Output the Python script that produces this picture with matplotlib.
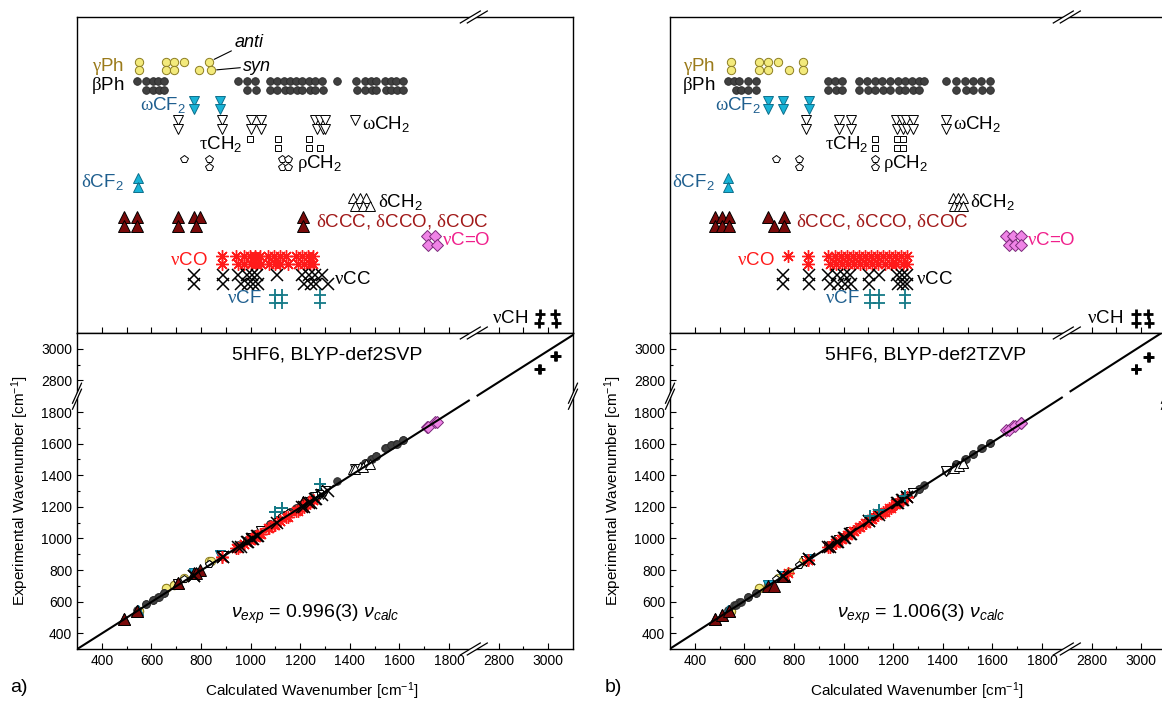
import numpy as np
import matplotlib
matplotlib.use('Agg')
import matplotlib.pyplot as plt
from matplotlib.lines import Line2D
from matplotlib.patches import Polygon

plt.rcParams['font.family'] = ['Liberation Sans', 'DejaVu Sans']
plt.rcParams['mathtext.fontset'] = 'custom'
plt.rcParams['mathtext.rm'] = 'Liberation Sans'
plt.rcParams['mathtext.it'] = 'Liberation Sans:italic'
plt.rcParams['mathtext.sf'] = 'Liberation Serif'

nan = np.nan

# bands, top to bottom
bands = ['gPh', 'bPh', 'wCF2', 'wCH2', 'tCH2', 'rCH2', 'dCF2', 'dCH2',
         'dCCC', 'nC=O', 'nCO', 'nCC', 'nCF', 'nCH']
band_labels = [r'$\mathsf{\gamma}$Ph', r'$\mathsf{\beta}$Ph', r'$\mathsf{\omega}$CF$_2$',
               r'$\mathsf{\omega}$CH$_2$', r'$\mathsf{\tau}$CH$_2$', r'$\mathsf{\rho}$CH$_2$',
               r'$\mathsf{\delta}$CF$_2$', r'$\mathsf{\delta}$CH$_2$',
               r'$\mathsf{\delta}$CCC, $\mathsf{\delta}$CCO, $\mathsf{\delta}$COC',
               r'$\mathsf{\nu}$C=O', r'$\mathsf{\nu}$CO', r'$\mathsf{\nu}$CC',
               r'$\mathsf{\nu}$CF', r'$\mathsf{\nu}$CH']

# BLYP-def2SVP, calculated wavenumbers (anti / syn) and experimental ones
svp_anti = {
    'gPh': [552, 658, 691, 732, nan, 833],
    'bPh': [540, 577, 605, 626, 650, 951, 984, 1017, 1078, 1106, 1135, 1159, 1184, 1208,
            1236, 1261, 1289, 1350, 1424, 1460, 1485, 1505, 1542, 1566, 1587, 1615],
    'wCF2': [772, 878],
    'wCH2': [707, 886, 1000, 1041, 1261, 1281, 1302, 1420],
    'tCH2': [996, 1110, 1236, nan],
    'rCH2': [732, 833, 1127, 1151],
    'dCF2': [544],
    'dCH2': [1412, 1440, 1464],
    'dCCC': [491, 540, 707, 772, 797, 1212],
    'nC=O': [1710, 1745],
    'nCO': [886, 943, 972, 996, 1017, 1037, 1070, 1094, 1118, 1143, 1184, 1208, 1232, 1253],
    'nCC': [772, 890, 951, 984, 1004, 1025, 1106, 1208, 1236, 1261, 1289, nan],
    'nCF': [1098, 1127, 1281],
    'nCH': [2965, 3026],
}
svp_syn = {
    'gPh': [552, 658, 691, nan, 793, 841],
    'bPh': [nan, 580, 605, 630, 650, nan, 984, 1020, 1080, 1106, 1138, 1159, 1188, 1208,
            1240, 1261, 1292, nan, 1428, 1460, 1488, 1505, 1546, 1566, 1590, 1615],
    'wCF2': [772, 878],
    'wCH2': [707, 886, 1000, 1041, 1266, 1290, 1302, nan],
    'tCH2': [nan, 1110, 1236, 1281],
    'rCH2': [nan, 833, 1127, 1151],
    'dCF2': [544],
    'dCH2': [1420, 1452, 1480],
    'dCCC': [491, 540, 707, 780, nan, 1212],
    'nC=O': [1715, 1750],
    'nCO': [886, 950, 975, 1000, 1020, 1040, 1075, 1098, 1120, 1150, 1190, 1215, 1238, 1253],
    'nCC': [772, 890, 960, 990, 1010, 1030, nan, 1215, 1245, 1265, nan, 1314],
    'nCF': [1098, 1127, 1281],
    'nCH': [2962, 3030],
}
svp_exp = {
    'gPh': [540, 686, 705, 749, 790, 860],
    'bPh': [545, 585, 610, 632, 655, 960, 990, 1025, 1090, 1115, 1145, 1170, 1195, 1215,
            1245, 1270, 1300, 1365, 1440, 1475, 1500, 1520, 1570, 1590, 1600, 1625],
    'wCF2': [781, 895],
    'wCH2': [712, 890, 1000, 1045, 1262, 1278, 1300, 1440],
    'tCH2': [1000, 1115, 1240, 1290],
    'rCH2': [740, 840, 1140, 1160],
    'dCF2': [545],
    'dCH2': [1440, 1455, 1470],
    'dCCC': [492, 540, 720, 780, 800, 1230],
    'nC=O': [1705, 1735],
    'nCO': [880, 940, 965, 990, 1010, 1030, 1065, 1085, 1110, 1135, 1175, 1200, 1225, 1245],
    'nCC': [760, 880, 945, 975, 995, 1015, 1100, 1200, 1225, 1250, 1275, 1300],
    'nCF': [1170, 1190, 1345],
    'nCH': [2875, 2956],
}

# BLYP-def2TZVP
tz_anti = {
    'gPh': [544, 658, 695, 736, nan, 837],
    'bPh': [532, 560, 580, 614, 646, 939, 964, 992, 1061, 1094, 1127, 1155, 1188, 1220,
            1249, 1277, 1306, 1326, 1412, 1453, 1490, 1522, 1555, 1591],
    'wCF2': [695, 756, 862],
    'wCH2': [850, 980, 1029, 1212, 1236, 1253, 1281, 1412],
    'tCH2': [1127, 1216, 1241],
    'rCH2': [728, 821, 1127],
    'dCF2': [532],
    'dCH2': [1440, 1460, 1481],
    'dCCC': [483, 511, 536, 695, 760],
    'nC=O': [1656, 1684, 1717],
    'nCO': [776, 858, 939, 964, 988, 1013, 1037, 1061, 1086, 1110, 1135, 1159, 1184, 1208, 1232, 1257],
    'nCC': [756, 862, 939, 972, 1000, 1025, 1102, 1143, 1216, 1236, 1257],
    'nCF': [1106, 1143, 1249],
    'nCH': [2981, 3026],
}
tz_syn = {
    'gPh': [544, 658, 695, nan, 780, 837],
    'bPh': [nan, 565, 585, 614, 646, 939, 968, 992, 1061, 1098, 1127, 1159, 1188, 1224,
            1249, 1280, 1306, nan, nan, 1453, 1494, 1522, 1560, 1591],
    'wCF2': [695, 756, 862],
    'wCH2': [850, 980, 1029, 1216, 1240, 1257, 1281, 1412],
    'tCH2': [1127, 1216, 1241],
    'rCH2': [nan, 821, 1127],
    'dCF2': [532],
    'dCH2': [1445, 1465, 1481],
    'dCCC': [483, 511, 536, 720, 760],
    'nC=O': [1665, 1690, 1717],
    'nCO': [nan, 858, 945, 968, 992, 1018, 1040, 1065, 1090, 1115, 1140, 1165, 1190, 1212, 1238, 1257],
    'nCC': [756, 862, 945, 978, 1005, 1030, 1102, nan, 1220, 1240, 1257],
    'nCF': [1106, 1143, 1249],
    'nCH': [2978, 3030],
}
tz_exp = {
    'gPh': [540, 686, 705, 749, 790, 860],
    'bPh': [545, 580, 595, 632, 655, 960, 985, 1010, 1075, 1110, 1140, 1165, 1195, 1230,
            1255, 1285, 1315, 1335, 1425, 1470, 1505, 1535, 1570, 1605],
    'wCF2': [705, 765, 870],
    'wCH2': [860, 990, 1040, 1220, 1245, 1262, 1290, 1425],
    'tCH2': [1135, 1225, 1250],
    'rCH2': [740, 830, 1140],
    'dCF2': [545],
    'dCH2': [1445, 1460, 1480],
    'dCCC': [490, 515, 540, 700, 765],
    'nC=O': [1686, 1710, 1730],
    'nCO': [780, 865, 945, 970, 995, 1020, 1045, 1070, 1095, 1120, 1145, 1170, 1195, 1215, 1240, 1265],
    'nCC': [765, 870, 945, 980, 1005, 1030, 1110, 1150, 1225, 1245, 1265],
    'nCF': [1140, 1180, 1270],
    'nCH': [2875, 2950],
}

svp_slope = 0.996
tz_slope = 1.006

major_ticks = [400, 600, 800, 1000, 1200, 1400, 1600, 1800, 2800, 3000]
minor_ticks = [500, 700, 900, 1100, 1300, 1500, 1700, 2900]
band_ticks = [400, 500, 600, 700, 800, 900, 1000, 1100, 1200, 1300, 1400, 1500, 1600,
              1700, 1800, 2800, 2900, 3000]

# label x position (wavenumber) and alignment for each band
svp_lab = {'gPh': (490, 'right'), 'bPh': (490, 'right'), 'wCF2': (738, 'right'),
           'wCH2': (1449, 'left'), 'tCH2': (965, 'right'), 'rCH2': (1187, 'left'),
           'dCF2': (487, 'right'), 'dCH2': (1514, 'left'), 'dCCC': (1262, 'left'),
           'nC=O': (1772, 'left'), 'nCO': (828, 'right'), 'nCC': (1335, 'left'),
           'nCF': (1046, 'right'), 'nCH': (2918, 'right')}
tz_lab = {'gPh': (481, 'right'), 'bPh': (481, 'right'), 'wCF2': (666, 'right'),
          'wCH2': (1441, 'left'), 'tCH2': (1098, 'right'), 'rCH2': (1159, 'left'),
          'dCF2': (481, 'right'), 'dCH2': (1510, 'left'), 'dCCC': (808, 'left'),
          'nC=O': (1740, 'left'), 'nCO': (723, 'right'), 'nCC': (1292, 'left'),
          'nCF': (1066, 'right'), 'nCH': (2926, 'right')}

# marker, face, edge, size, edge width, label colour
style = {
    'gPh': ('o', '#f3ea7c', '#8c7d22', 6.0, 0.7, '#9a7a1a'),
    'bPh': ('o', '#404040', '#2a2a2a', 5.5, 0.6, 'black'),
    'wCF2': ('v', '#19b3d6', '#0d6f8c', 6.5, 0.7, '#1f5f8f'),
    'wCH2': ('v', 'white', 'black', 6.5, 0.7, 'black'),
    'tCH2': ('s', 'white', 'black', 4.0, 0.7, 'black'),
    'rCH2': ('p', 'white', 'black', 5.5, 0.7, 'black'),
    'dCF2': ('^', '#19b3d6', '#0d6f8c', 7.0, 0.7, '#1f5f8f'),
    'dCH2': ('^', 'white', 'black', 7.5, 0.7, 'black'),
    'dCCC': ('^', '#7a0a0a', 'black', 8.0, 0.7, '#a01818'),
    'nC=O': ('D', '#ef84e6', '#7a2a7a', 6.5, 0.7, '#f0208c'),
    'nCO': ((8, 2, 0), '#ff1a1a', '#ff1a1a', 9.0, 1.0, '#ff1a1a'),
    'nCC': ('x', 'black', 'black', 8.0, 1.1, 'black'),
    'nCF': ('+', '#157a87', '#157a87', 8.0, 1.3, '#1f5f8f'),
    'nCH': ('+', 'black', 'black', 7.5, 2.0, 'black'),
}


# broken axis: 1900..2700 is cut out
def fwd(v):
    v = np.asarray(v, dtype=float)
    out = np.where(v <= 1900, v, np.where(v >= 2700, v - 800, 1900))
    return np.where(np.isnan(v), np.nan, out)


def inv(u):
    u = np.asarray(u, dtype=float)
    return np.where(u <= 1900, u, u + 800)


fig = plt.figure(figsize=(11.62, 7.02), dpi=100)
AXW, AXH = 496.0, 316.0
PW, PH = AXW / 1162, AXH / 702


def break_mark(ax, xf, yf, d, sep):
    hx, hy = d[0] / 2 / AXW, d[1] / 2 / AXH
    sx, sy = sep[0] / 2 / AXW, sep[1] / 2 / AXH
    a = (xf - sx, yf - sy)
    b = (xf + sx, yf + sy)
    pts = [(a[0] - hx, a[1] - hy), (a[0] + hx, a[1] + hy),
           (b[0] + hx, b[1] + hy), (b[0] - hx, b[1] - hy)]
    fig.add_artist(Polygon(pts, closed=True, fc='white', ec='none',
                           transform=ax.transAxes, zorder=5))
    for c in (a, b):
        fig.add_artist(Line2D([c[0] - hx, c[0] + hx], [c[1] - hy, c[1] + hy], color='black',
                              lw=0.9, transform=ax.transAxes, zorder=6))


def draw_panel(x0, anti, syn, exp, labpos, slope, title, eq, title_x, eq_x, xlab_x, letter, letter_x):
    axt = fig.add_axes([x0, 1 - 333 / 702, PW, PH])
    axb = fig.add_axes([x0, 1 - 649 / 702, PW, PH])
    for ax in (axt, axb):
        ax.set_xscale('function', functions=(fwd, inv))
        ax.set_xlim(300, 3100)
        for s in ax.spines.values():
            s.set_linewidth(1.0)

    # top: band positions
    axt.set_ylim(13.76, -2.53)
    axt.set_xticks(band_ticks)
    axt.tick_params(axis='x', direction='in', length=4, width=0.8, labelbottom=False)
    axt.tick_params(axis='y', left=False, labelleft=False)
    for i, b in enumerate(bands):
        m, fc, ec, ms, mew, lc = style[b]
        axt.plot(anti[b], [i - 0.22] * len(anti[b]), ls='none', marker=m, mfc=fc, mec=ec,
                 ms=ms, mew=mew)
        axt.plot(syn[b], [i + 0.22] * len(syn[b]), ls='none', marker=m, mfc=fc, mec=ec,
                 ms=ms, mew=mew)
        lx, ha = labpos[b]
        axt.text(lx, i, band_labels[i], ha=ha, va='center', fontsize=13.5, color=lc)

    # bottom: experiment vs calculation
    axb.set_yscale('function', functions=(fwd, inv))
    axb.set_ylim(300, 3100)
    for setter in (axb.set_xticks, axb.set_yticks):
        setter(major_ticks)
        setter(minor_ticks, minor=True)
    axb.set_xticklabels([str(t) for t in major_ticks])
    axb.set_yticklabels([str(t) for t in major_ticks])
    axb.tick_params(which='both', direction='in', width=0.8, labelsize=10)
    axb.tick_params(which='major', length=4)
    axb.tick_params(which='minor', length=2.3)
    for i, b in enumerate(bands):
        m, fc, ec, ms, mew, lc = style[b]
        axb.plot(anti[b], exp[b], ls='none', marker=m, mfc=fc, mec=ec, ms=ms, mew=mew, zorder=2)
        axb.plot(syn[b], exp[b], ls='none', marker=m, mfc=fc, mec=ec, ms=ms, mew=mew, zorder=2)
    lo = np.array([300, 1880])
    hi = np.array([2715, 3110])
    axb.plot(lo, slope * lo, color='black', lw=1.5, zorder=3)
    axb.plot(hi, slope * hi, color='black', lw=1.5, zorder=3)

    axb.text(title_x, 0.93, title, transform=axb.transAxes, ha='center', va='center', fontsize=14)
    axb.text(eq_x, 0.111, eq, transform=axb.transAxes, ha='center', va='center', fontsize=14)
    axb.set_ylabel('Experimental Wavenumber [cm$^{-1}$]', fontsize=11)
    axb.yaxis.set_label_coords(-0.093, 0.5)
    axb.set_xlabel('Calculated Wavenumber [cm$^{-1}$]', fontsize=11)
    axb.xaxis.set_label_coords(xlab_x, -0.098)
    fig.text(letter_x, 1 - 688 / 702, letter, fontsize=14, va='center')

    xb = (1900 - 300) / 2000
    for ax, yf in ((axt, 1.0), (axt, 0.0), (axb, 0.0)):
        break_mark(ax, xb, yf, (20, 12), (7, 0))
    for xf in (0.0, 1.0):
        break_mark(axb, xf, xb, (9, 20), (0, 6))
    return axt, axb


axt_a, axb_a = draw_panel(77 / 1162, svp_anti, svp_syn, svp_exp, svp_lab, svp_slope,
                          '5HF6, BLYP-def2SVP',
                          r'$\nu_{exp}$ = 0.996(3) $\nu_{calc}$',
                          0.504, 0.48, 0.474, 'a)', 10 / 1162)
draw_panel(670 / 1162, tz_anti, tz_syn, tz_exp, tz_lab, tz_slope,
           '5HF6, BLYP-def2TZVP',
           r'$\nu_{exp}$ = 1.006(3) $\nu_{calc}$',
           0.516, 0.506, 0.498, 'b)', 605 / 1162)

# conformer labels on the first yellow pair
axt_a.annotate('anti', xy=(833, -0.22), xytext=(18, 14), textcoords='offset points',
               fontsize=13, fontstyle='italic', ha='left', va='center',
               arrowprops=dict(arrowstyle='-', lw=0.8, color='black', shrinkA=0, shrinkB=4))
axt_a.annotate('syn', xy=(841, 0.22), xytext=(23, 3), textcoords='offset points',
               fontsize=13, fontstyle='italic', ha='left', va='center',
               arrowprops=dict(arrowstyle='-', lw=0.8, color='black', shrinkA=0, shrinkB=4))

plt.savefig('out.png', dpi=100)
